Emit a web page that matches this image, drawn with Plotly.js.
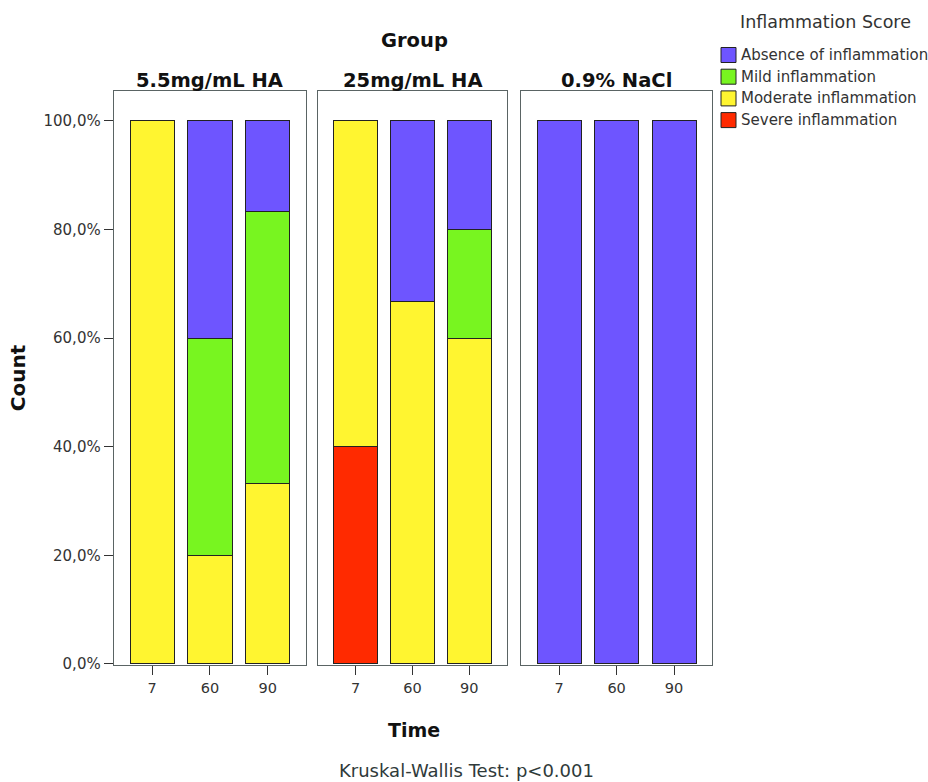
<!DOCTYPE html>
<html><head><meta charset="utf-8">
<script src="https://cdn.plot.ly/plotly-3.0.1.min.js"></script>
<style>body{margin:0;background:#fff}#chart{width:928px;height:782px}</style>
</head><body><div id="chart"></div>
<script>
const groups = ["5.5mg/mL HA", "25mg/mL HA", "0.9% NaCl"];
const times = ["7", "60", "90"];
const scores = ["Absence of inflammation", "Mild inflammation", "Moderate inflammation", "Severe inflammation"];
const colors = ["#6e55ff", "#78f520", "#fff530", "#ff2a00"];
// percentages per group, indexed by time
const absence = [[0, 40, 16.7], [0, 33.3, 20], [100, 100, 100]];
const mild = [[0, 40, 50], [0, 0, 20], [0, 0, 0]];
const moderate = [[100, 20, 33.3], [60, 66.7, 60], [0, 0, 0]];
const severe = [[0, 0, 0], [40, 0, 0], [0, 0, 0]];
const yTickVals = [0, 20, 40, 60, 80, 100];
const yTickText = ["0,0%", "20,0%", "40,0%", "60,0%", "80,0%", "100,0%"];

const series = [severe, moderate, mild, absence];
const seriesColorIdx = [3, 2, 1, 0];
const traces = [];
groups.forEach((g, gi) => {
  const ax = gi === 0 ? "" : String(gi + 1);
  series.forEach((s, si) => {
    traces.push({
      type: "bar", x: times, y: s[gi], xaxis: "x" + ax, yaxis: "y" + ax,
      name: scores[seriesColorIdx[si]], showlegend: false,
      marker: {color: colors[seriesColorIdx[si]], line: {color: "#222", width: 1}},
      width: 0.765, hoverinfo: "y"
    });
  });
});

const FONT = "DejaVu Sans, Liberation Sans, Arial, sans-serif";
const domains = [[0, 0.321], [0.341, 0.657], [0.681, 1]];
const layout = {
  width: 928, height: 782, barmode: "stack", showlegend: false,
  paper_bgcolor: "#fff", plot_bgcolor: "#fff",
  margin: {l: 114, r: 216, t: 91, b: 117},
  font: {family: FONT, color: "#333"},
  annotations: [], shapes: []
};
groups.forEach((g, gi) => {
  const ax = gi === 0 ? "" : String(gi + 1);
  layout["xaxis" + ax] = {
    domain: domains[gi], type: "category", range: [-0.66, 2.66], anchor: "y" + ax,
    showline: true, mirror: true, linecolor: "#5a6464", linewidth: 1.3,
    ticks: "outside", ticklen: 9, tickcolor: "#333", tickfont: {size: 14.5, color: "#333"},
    showgrid: false, zeroline: false, fixedrange: true
  };
  layout["yaxis" + ax] = {
    range: [-0.2, 105.5], anchor: "x" + ax,
    showline: true, mirror: true, linecolor: "#5a6464", linewidth: 1.3,
    showgrid: false, zeroline: false,
    tickvals: yTickVals, ticktext: yTickText,
    ticks: gi === 0 ? "outside" : "", ticklen: 9, tickcolor: "#333",
    showticklabels: gi === 0, tickfont: {size: 15, color: "#333"}
  };
  layout.annotations.push({
    text: "<b>" + g + "</b>", xref: "paper", yref: "paper",
    x: (domains[gi][0] + domains[gi][1]) / 2, y: 1, yshift: 11,
    xanchor: "center", yanchor: "middle", showarrow: false,
    font: {size: 19.5, color: "#111"}
  });
});
layout.yaxis.title = {text: "<b>Count</b>", font: {size: 20, color: "#111"}, standoff: 12};
layout.annotations.push(
  {text: "<b>Group</b>", xref: "paper", yref: "paper", x: 0.502, y: 1, yshift: 51,
   xanchor: "center", yanchor: "middle", showarrow: false, font: {size: 19.5, color: "#111"}},
  {text: "<b>Time</b>", xref: "paper", yref: "paper", x: 0.502, y: 0, yshift: -65,
   xanchor: "center", yanchor: "middle", showarrow: false, font: {size: 19, color: "#111"}},
  {text: "Kruskal-Wallis Test: p&lt;0.001", xref: "paper", yref: "paper", x: 0.589, y: 0, yshift: -105,
   xanchor: "center", yanchor: "middle", showarrow: false, font: {size: 18, color: "#2f3a3a"}},
  {text: "Inflammation Score", xref: "paper", yref: "paper", x: 1, xshift: 113, y: 1, yshift: 69,
   xanchor: "center", yanchor: "middle", showarrow: false, font: {size: 17.5, color: "#333"}}
);
// legend drawn manually
scores.forEach((s, i) => {
  const yc = 1 + (91 - (55 + i * 21.7)) / 574;
  layout.shapes.push({type: "rect", xref: "paper", yref: "paper",
    x0: 1 + 9 / 598, x1: 1 + 24 / 598, y0: yc - 7.5 / 574, y1: yc + 7.5 / 574,
    fillcolor: colors[i], line: {color: "#222", width: 1}});
  layout.annotations.push({text: s, xref: "paper", yref: "paper", x: 1, xshift: 27, y: yc,
    xanchor: "left", yanchor: "middle", showarrow: false, font: {size: 15, color: "#333"}});
});
Plotly.newPlot("chart", traces, layout, {displayModeBar: false, staticPlot: true});
</script></body></html>
